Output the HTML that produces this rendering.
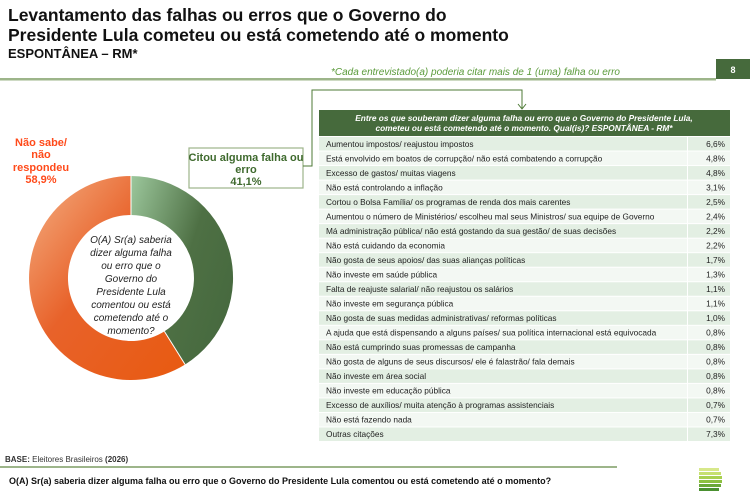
<!DOCTYPE html>
<html><head><meta charset="utf-8"><style>
body{margin:0;background:#fff;width:750px;height:494px;overflow:hidden;font-family:"Liberation Sans",sans-serif}
</style></head><body>
<svg width="750" height="494" style="position:absolute;left:0;top:0" font-family="Liberation Sans, sans-serif">
<defs>
<linearGradient id="og" x1="0" y1="0" x2="1" y2="1"><stop offset="0" stop-color="#f4b084"/><stop offset="0.45" stop-color="#e8622a"/><stop offset="1" stop-color="#e85a10"/></linearGradient>
<linearGradient id="gg" x1="0" y1="0" x2="1" y2="0.6"><stop offset="0" stop-color="#9cc79c"/><stop offset="0.6" stop-color="#4e7044"/><stop offset="1" stop-color="#476a3f"/></linearGradient>
</defs>
<text x="8" y="21" font-size="17.5" font-weight="bold" fill="#111">Levantamento das falhas ou erros que o Governo do</text>
<text x="8" y="41" font-size="17.5" font-weight="bold" fill="#111">Presidente Lula cometeu ou está cometendo até o momento</text>
<text x="8" y="58" font-size="13" font-weight="bold" fill="#111">ESPONTÂNEA – RM*</text>
<text x="620" y="75" font-size="10" font-style="italic" fill="#5a9a3a" text-anchor="end">*Cada entrevistado(a) poderia citar mais de 1 (uma) falha ou erro</text>
<rect x="0" y="78" width="716" height="2.5" fill="#9db58a"/>
<rect x="716" y="59" width="34" height="20" fill="#466a3c"/>
<text x="733" y="73" font-size="9" fill="#fff" text-anchor="middle" font-weight="bold">8</text>
<path d="M131 176 A102 102 0 0 1 185.1 364.5 L164.4 331.4 A63 63 0 0 0 131 215 Z" fill="url(#gg)"/>
<path d="M185.1 364.5 A102 102 0 1 1 131 176 L131 215 A63 63 0 1 0 164.4 331.4 Z" fill="url(#og)"/>
<line x1="131" y1="176" x2="131" y2="215" stroke="#fff" stroke-width="1"/>
<line x1="185.1" y1="364.5" x2="164.4" y2="331.4" stroke="#fff" stroke-width="1"/>
<g font-size="10" font-style="italic" fill="#222" text-anchor="middle">
<text x="131" y="243">O(A) Sr(a) saberia</text>
<text x="131" y="256">dizer alguma falha</text>
<text x="131" y="269">ou erro que o</text>
<text x="131" y="282">Governo do</text>
<text x="131" y="295">Presidente Lula</text>
<text x="131" y="308">comentou ou está</text>
<text x="131" y="321">cometendo até o</text>
<text x="131" y="334">momento?</text>
</g>
<g font-size="11" font-weight="bold" fill="#ff4a1a" text-anchor="middle">
<text x="41" y="146">Não sabe/</text>
<text x="41" y="158">não</text>
<text x="41" y="171">respondeu</text>
<text x="41" y="183">58,9%</text>
</g>
<rect x="189" y="148" width="114" height="40" fill="#fff" stroke="#9db58a" stroke-width="1.2"/>
<g font-size="11" font-weight="bold" fill="#3f6a2e" text-anchor="middle">
<text x="246" y="161">Citou alguma falha ou</text>
<text x="246" y="173">erro</text>
<text x="246" y="185">41,1%</text>
</g>
<polyline points="303,166 312,166 312,90 522,90 522,108" fill="none" stroke="#4d7a35" stroke-width="1"/>
<polyline points="518,104 522,109 526,104" fill="none" stroke="#4d7a35" stroke-width="1"/>
<rect x="319" y="110" width="411" height="26" fill="#466a3c"/>
<g font-size="8.3" font-style="italic" font-weight="bold" fill="#fff" text-anchor="middle">
<text x="524" y="121">Entre os que souberam dizer alguma falha ou erro que o Governo do Presidente Lula,</text>
<text x="524" y="131">cometeu ou está cometendo até o momento. Qual(is)? ESPONTÂNEA - RM*</text>
</g>
<g id="rows" font-size="8.3" fill="#222"></g>
</svg>
<script>
var d=[["Aumentou impostos/ reajustou impostos","6,6%"],["Está envolvido em boatos de corrupção/ não está combatendo a corrupção","4,8%"],["Excesso de gastos/ muitas viagens","4,8%"],["Não está controlando a inflação","3,1%"],["Cortou o Bolsa Família/ os programas de renda dos mais carentes","2,5%"],["Aumentou o número de Ministérios/ escolheu mal seus Ministros/ sua equipe de Governo","2,4%"],["Má administração pública/ não está gostando da sua gestão/ de suas decisões","2,2%"],["Não está cuidando da economia","2,2%"],["Não gosta de seus apoios/ das suas alianças políticas","1,7%"],["Não investe em saúde pública","1,3%"],["Falta de reajuste salarial/ não reajustou os salários","1,1%"],["Não investe em segurança pública","1,1%"],["Não gosta de suas medidas administrativas/ reformas políticas","1,0%"],["A ajuda que está dispensando a alguns países/ sua política internacional está equivocada","0,8%"],["Não está cumprindo suas promessas de campanha","0,8%"],["Não gosta de alguns de seus discursos/ ele é falastrão/ fala demais","0,8%"],["Não investe em área social","0,8%"],["Não investe em educação pública","0,8%"],["Excesso de auxílios/ muita atenção à programas assistenciais","0,7%"],["Não está fazendo nada","0,7%"],[" Outras citações","7,3%"]];
var g=document.getElementById('rows'),s='',y0=137,hh=305/21;
for(var i=0;i<d.length;i++){var y=y0+i*hh;
var c=i%2==0?'#e3efe3':'#f3f8f3';
s+='<rect x="319" y="'+y+'" width="368" height="'+(hh-1)+'" fill="'+c+'"/><rect x="688" y="'+y+'" width="42" height="'+(hh-1)+'" fill="'+c+'"/>';
s+='<text x="326" y="'+(y+hh/2+2.5)+'">'+d[i][0]+'</text><text x="725" y="'+(y+hh/2+2.5)+'" text-anchor="end">'+d[i][1]+'</text>';}
g.innerHTML=s;
</script>
<svg width="750" height="494" style="position:absolute;left:0;top:0" font-family="Liberation Sans, sans-serif">
<text x="5" y="462" font-size="8" fill="#333"><tspan font-weight="bold">BASE:</tspan> Eleitores Brasileiros <tspan font-weight="bold">(2026)</tspan></text>
<rect x="0" y="466" width="617" height="2" fill="#9db58a"/>
<text x="9" y="484" font-size="9" font-weight="bold" fill="#111">O(A) Sr(a) saberia dizer alguma falha ou erro que o Governo do Presidente Lula comentou ou está cometendo até o momento?</text>
<rect x="699" y="468" width="20" height="3" fill="#d7e88a"/>
<rect x="699" y="472" width="22" height="3" fill="#c6e070"/>
<rect x="699" y="476" width="23" height="3" fill="#a8d050"/>
<rect x="699" y="480" width="23" height="3" fill="#8cc040"/>
<rect x="699" y="484" width="22" height="3" fill="#6aa838"/>
<rect x="699" y="488" width="20" height="3" fill="#4a9030"/>
</svg>
</body></html>
